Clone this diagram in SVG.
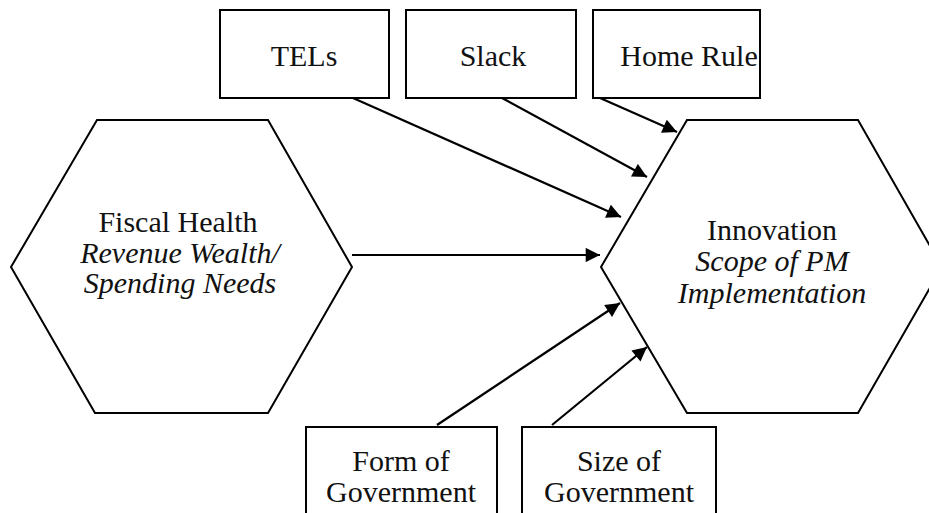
<svg xmlns="http://www.w3.org/2000/svg" width="929" height="513" viewBox="0 0 929 513">
<style>
.shape{fill:#fff;stroke:#000;stroke-width:2}
text{font-family:'Liberation Serif','DejaVu Serif',serif;font-size:30px;fill:#111;text-anchor:middle}
.i{font-style:italic}
.c{stroke:#000;stroke-width:2.2;fill:none;marker-end:url(#ah)}
</style>
<defs>
<marker id="ah" viewBox="0 0 10 10" refX="10" refY="5" markerWidth="7.5" markerHeight="6.5" markerUnits="strokeWidth" orient="auto">
<path d="M0,0 L10,5 L0,10 z" fill="#000"/>
</marker>
</defs>
<rect width="929" height="513" fill="#fff"/>
<g id="connectors">
<line class="c" x1="353" y1="98" x2="621" y2="217"/>
<line class="c" x1="502" y1="98" x2="647" y2="177"/>
<line class="c" x1="600" y1="98" x2="677" y2="132"/>
<line class="c" x1="352" y1="255" x2="600" y2="255"/>
<line class="c" x1="437" y1="425" x2="620" y2="303"/>
<line class="c" x1="552" y1="425" x2="647" y2="347"/>
</g>
<g id="tels">
<rect class="shape" x="220" y="10" width="169" height="88"/>
<text font-family="Liberation Serif, DejaVu Serif, serif" x="304" y="66">TELs</text>
</g>
<g id="slack">
<rect class="shape" x="406" y="10" width="170" height="88"/>
<text font-family="Liberation Serif, DejaVu Serif, serif" x="493" y="66">Slack</text>
</g>
<g id="homerule">
<rect class="shape" x="593" y="10" width="167" height="88"/>
<text font-family="Liberation Serif, DejaVu Serif, serif" x="689" y="66">Home Rule</text>
</g>
<g id="fiscal">
<polygon class="shape" points="11,267 97,120 268,120 352,267 268,413 95,413"/>
<text font-family="Liberation Serif, DejaVu Serif, serif" x="178" y="232" font-size="32">Fiscal Health</text>
<text class="i" font-family="Liberation Serif, DejaVu Serif, serif" x="180" y="263">Revenue Wealth/</text>
<text class="i" font-family="Liberation Serif, DejaVu Serif, serif" x="180" y="293">Spending Needs</text>
</g>
<g id="innovation">
<polygon class="shape" points="601,267 687,120 858,120 942,267 858,413 687,413"/>
<text font-family="Liberation Serif, DejaVu Serif, serif" x="772" y="240">Innovation</text>
<text class="i" font-family="Liberation Serif, DejaVu Serif, serif" x="772" y="271">Scope of PM</text>
<text class="i" font-family="Liberation Serif, DejaVu Serif, serif" x="772" y="303">Implementation</text>
</g>
<g id="form">
<rect class="shape" x="306" y="427" width="191" height="100"/>
<text font-family="Liberation Serif, DejaVu Serif, serif" x="401" y="471">Form of</text>
<text font-family="Liberation Serif, DejaVu Serif, serif" x="401" y="502">Government</text>
</g>
<g id="size">
<rect class="shape" x="522" y="427" width="194" height="100"/>
<text font-family="Liberation Serif, DejaVu Serif, serif" x="619" y="471">Size of</text>
<text font-family="Liberation Serif, DejaVu Serif, serif" x="619" y="502">Government</text>
</g>
</svg>
